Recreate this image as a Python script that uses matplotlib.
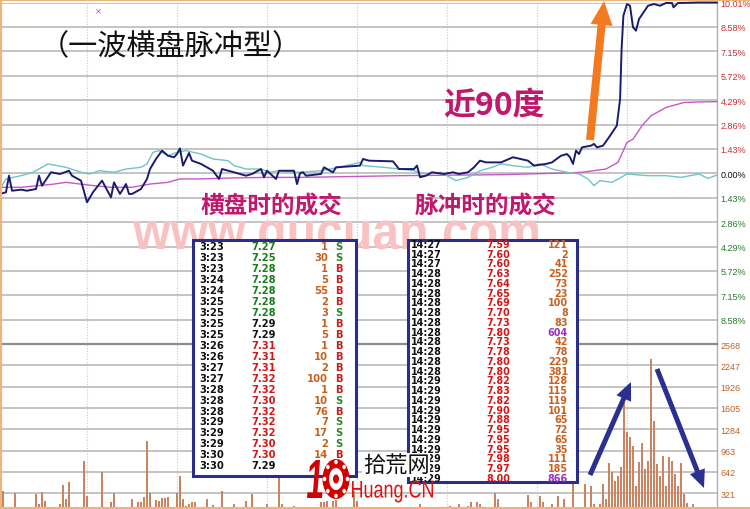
import numpy as np
import matplotlib
matplotlib.use("Agg")
import matplotlib.pyplot as plt
from matplotlib.patches import Rectangle, FancyArrow, Ellipse, PathPatch
from matplotlib.textpath import TextPath
from matplotlib.font_manager import FontProperties
from matplotlib.transforms import Affine2D

W, H = 750, 510

# ---------------- data ----------------
price_t = [1, 3, 4, 5, 8, 10, 13, 14, 15, 18, 21, 24, 25, 28, 30, 32, 35, 38, 39, 41, 43, 44, 45, 48,
           50, 51, 53, 55, 57, 59, 60, 61, 62, 64, 65, 68, 72, 74, 75, 79, 83, 85, 88, 89, 90, 93,
           94, 99, 100, 101, 102, 103, 108, 109, 111, 112, 113, 121, 122, 124, 132, 134, 139, 140,
           141, 143, 145, 149, 152, 154, 157, 159, 161, 163, 168, 172, 177, 179, 183, 185, 188, 190,
           191, 192, 193, 194, 195, 198, 199, 200, 202, 204, 206.6, 207.7, 208.2, 208.8, 210, 211,
           212, 213, 214, 217, 219, 221, 223, 225, 225.5, 227, 234, 240]
price_pct = [-1.21, -1.11, -0.14, -1.02, -0.96, -1.02, -0.92, -0.14, -0.73, 0.06, -0.04, 0.15, -0.14,
             -0.43, -1.70, -1.11, -0.43, -1.41, -0.53, -1.21, -0.63, -1.21, -1.21, -0.92, -0.33, 0.25,
             0.84, 1.33, 1.03, 0.94, 1.13, 1.46, 0.45, 1.19, 0.74, 0.55, 0.15, -0.33, 0.25, 0.06,
             -0.14, -0.04, 0.25, -0.23, 0.15, -0.33, 0.15, 0.15, -0.63, 0.00, 0.06, -0.14, -0.04,
             0.35, 0.15, 0.06, 0.35, 0.45, 0.84, 0.74, 0.70, 0.25, 0.25, 0.45, -0.23, -0.14, 0.06,
             -0.04, 0.06, -0.04, 0.06, 0.35, 0.74, 0.64, 0.64, 0.94, 0.74, 0.45, 0.55, 0.64, 1.03,
             1.13, 0.94, 0.55, 1.33, 1.13, 1.52, 1.62, 1.72, 1.52, 1.62, 2.11, 2.79, 4.36, 7.29,
             9.24, 9.92, 9.82, 8.56, 8.36, 9.04, 9.82, 9.92, 9.82, 9.98, 9.98, 9.73, 9.98, 10.01, 10.01]

index_t = [1, 3, 8, 12, 17, 23, 28, 31, 34, 39, 43, 48, 50, 52, 54, 57, 60, 63, 68, 72, 77, 79, 83,
           88, 91, 94, 99, 101, 108, 114, 121, 122, 129, 134, 139, 143, 148, 150, 153, 157, 161,
           165, 168, 172, 177, 181, 185, 190, 194, 197, 199, 201, 205, 208, 210, 217, 223, 228,
           234, 237, 240]
index_pct = [-0.92, -0.33, -0.14, 0.06, 0.55, 0.35, 0.06, -0.04, 0.15, 0.06, 0.25, 0.35, 0.55, 1.23,
             1.33, 1.03, 1.23, 1.33, 1.13, 0.84, 0.74, 0.45, 0.25, 0.25, 0.06, 0.15, 0.06, 0.06,
             0.15, 0.35, 0.64, 0.45, 0.35, 0.25, 0.15, -0.04, 0.06, -0.14, -0.43, -0.24, 0.15,
             0.35, 0.55, 0.45, 0.35, 0.55, 0.25, 0.06, -0.04, -0.33, -0.72, -0.43, -0.53, -0.24,
             -0.04, -0.14, -0.14, -0.24, -0.04, -0.30, -0.10]

avg_t = [1, 8, 14, 19, 23, 32, 38, 45, 51, 57, 61, 68, 79, 90, 101, 134, 168, 190, 195, 203, 207,
         210, 212, 215, 218, 223, 229, 234, 240]
avg_pct = [-0.82, -0.82, -0.72, -0.63, -0.53, -0.72, -0.82, -0.82, -0.63, -0.53, -0.33, -0.33,
           -0.27, -0.24, -0.24, -0.14, -0.08, 0.02, 0.06, 0.25, 0.64, 1.81, 2.00, 2.79, 3.37, 3.86,
           4.15, 4.18, 4.20]

vol_t = [2, 6, 13, 14, 15, 16, 21, 22, 23, 24, 29, 30, 35, 38, 39, 45, 47, 48, 49, 50, 51, 53, 54,
         55, 56, 57, 60, 61, 62, 63, 64, 65, 66, 70, 72, 75, 79, 83, 85, 90, 94, 95, 99, 108, 109,
         110, 112, 113, 119, 120, 141, 148, 149, 151, 154, 157, 158, 160, 161, 166, 167, 177, 178,
         181, 182, 185, 187, 189, 192, 196, 198, 199, 201, 202, 203, 204, 205, 206, 207, 208, 209,
         210, 211, 212, 213, 214, 215, 216, 217, 218, 219, 220, 221, 222, 223, 224, 225, 226, 227,
         228, 229, 230, 232]
vol_v = [357, 322, 307, 157, 333, 197, 157, 448, 232, 484, 810, 273, 644, 182, 318, 232, 182, 182,
         258, 1111, 322, 217, 207, 243, 243, 258, 322, 583, 232, 131, 157, 182, 192, 232, 136, 357,
         157, 207, 307, 157, 559, 157, 131, 182, 182, 207, 197, 222, 357, 207, 157, 110, 110, 131,
         157, 131, 182, 182, 157, 322, 232, 293, 192, 283, 192, 157, 283, 232, 508, 458, 433, 157,
         157, 458, 232, 775, 634, 508, 583, 710, 1714, 1237, 1162, 1036, 433, 785, 1076, 684, 810,
         2342, 1412, 760, 583, 885, 433, 860, 810, 609, 433, 770, 307, 167, 157]

pct_ticks = [10.01, 8.58, 7.15, 5.72, 4.29, 2.86, 1.43, 0.00, -1.43, -2.86, -4.29, -5.72, -7.15, -8.58]
vol_ticks = [2568, 2247, 1926, 1605, 1284, 963, 642, 321]
grid_minutes = [30, 60, 90, 120, 150, 180, 210]

left_time = ["3:23", "3:23", "3:23", "3:24", "3:24", "3:25", "3:25", "3:25", "3:25", "3:26", "3:26",
             "3:27", "3:27", "3:28", "3:28", "3:28", "3:29", "3:29", "3:29", "3:30", "3:30"]
left_price = [7.27, 7.25, 7.28, 7.28, 7.28, 7.28, 7.28, 7.29, 7.29, 7.31, 7.31, 7.31, 7.32, 7.32,
              7.30, 7.32, 7.32, 7.32, 7.30, 7.30, 7.29]
left_vol = [1, 30, 1, 5, 55, 2, 3, 1, 5, 1, 10, 2, 100, 1, 10, 76, 7, 17, 2, 14, None]
left_flag = ["S", "S", "B", "B", "B", "B", "S", "B", "B", "B", "B", "B", "B", "B", "S", "B", "S",
             "S", "S", "B", ""]

right_time = ["14:27"] * 3 + ["14:28"] * 11 + ["14:29"] * 11
right_price = [7.59, 7.60, 7.60, 7.63, 7.64, 7.65, 7.69, 7.70, 7.73, 7.80, 7.73, 7.78, 7.80, 7.80,
               7.82, 7.83, 7.82, 7.90, 7.88, 7.95, 7.95, 7.95, 7.98, 7.97, 8.00]
right_vol = [121, 2, 41, 252, 73, 23, 100, 8, 83, 604, 42, 78, 229, 381, 128, 115, 119, 101, 65, 72,
             65, 35, 111, 185, 866]
prev_close = 7.29

title_text = "（一波横盘脉冲型）"
angle_text = "近90度"
flat_label = "横盘时的成交"
pulse_label = "脉冲时的成交"
watermark = "www.gucuan.com"
logo_cn = "拾荒网"
logo_en = "Huang.CN"

# ---------------- figure ----------------
fig = plt.figure(figsize=(7.5, 5.1), dpi=100)
fig.patch.set_facecolor("white")


def fy(px):
    return 1 - px / H


GRID = "#b4b4b4"
ax_p = fig.add_axes([0, fy(345.1), 717 / W, (345.1 - 3.5) / H])
ax_v = fig.add_axes([0, fy(508), 717 / W, (508 - 345.1) / H])

for ax in (ax_p, ax_v):
    ax.set_xlim(1, 240)
    ax.set_facecolor("white")
    for s in ("left", "top", "bottom"):
        ax.spines[s].set_visible(False)
    ax.spines["right"].set_color("#b0b0b0")
    ax.spines["right"].set_linewidth(1.0)
    ax.set_xticks(grid_minutes)
    ax.tick_params(axis="x", length=0, labelbottom=False)
    ax.grid(axis="x", color="#c8c8c8", linestyle=(0, (1, 1.5)), linewidth=0.8)
    ax.grid(axis="y", color=GRID, linewidth=1.1)
    ax.yaxis.tick_right()
    ax.tick_params(axis="y", length=0, pad=2.5, labelsize=6.5)
    ax.set_axisbelow(True)

ax_p.set_ylim(-10.01, 10.01)
ax_p.set_yticks(pct_ticks)
ax_p.set_yticklabels([f"{abs(v):.2f}%" for v in pct_ticks], family="Liberation Sans")
for v, lab in zip(pct_ticks, ax_p.get_yticklabels()):
    lab.set_color("#c83030" if v > 0 else ("#111111" if v == 0 else "#2a7a2a"))

ax_v.set_ylim(113, 2568)
ax_v.set_yticks(vol_ticks)
ax_v.set_yticklabels([str(v) for v in vol_ticks], family="Liberation Sans")
for lab in ax_v.get_yticklabels():
    lab.set_color("#c0622a")
ax_v.spines["top"].set_visible(True)
ax_v.spines["top"].set_color("#8c8c8c")
ax_v.spines["top"].set_linewidth(1.6)

ax_p.plot(avg_t, avg_pct, color="#c858c8", lw=1.0, zorder=3, clip_on=False)
ax_p.plot(index_t, index_pct, color="#70c4c4", lw=1.0, zorder=3)
ax_p.plot(price_t, price_pct, color="#1c1c6e", lw=1.4, zorder=4, clip_on=False)

ax_v.bar(vol_t, vol_v, width=0.45, color="#c98462", linewidth=0, zorder=3)

# ---------------- overlay (pixel coordinates) ----------------
ov = fig.add_axes([0, 0, 1, 1])
ov.set_xlim(0, W)
ov.set_ylim(H, 0)
ov.axis("off")
ov.patch.set_alpha(0)


def path_text(s, x0, baseline, width, ref_h, ref, family, weight, color, skew=0, z=5):
    fp = FontProperties(family=family, weight=weight)
    tp = TextPath((0, 0), s, size=100, prop=fp)
    ext = tp.get_extents()
    rh = TextPath((0, 0), ref, size=100, prop=fp).get_extents().y1
    sx = width / ext.width
    sy = ref_h / rh
    tr = (Affine2D().translate(-ext.x0, 0).skew_deg(skew, 0).scale(sx, -sy)
          .translate(x0, baseline) + ov.transData)
    ov.add_patch(PathPatch(tp, transform=tr, fc=color, ec="none", zorder=z))


# frame lines
ov.plot([1, 1], [0, H], color="#f0b478", lw=1.5, zorder=1)
ov.plot([0, W], [1, 1], color="#f0b478", lw=1.5, zorder=1)
ov.plot([0, W], [508.5, 508.5], color="#f0b478", lw=1.5, zorder=1)
ov.text(98, 12, "×", color="#d040c0", fontsize=6, ha="center", va="center")

# titles
ov.text(171, 47, title_text, fontsize=21, family=["Noto Sans CJK SC", "DejaVu Sans"],
        ha="center", va="center", color="#111111")
ov.text(494, 106, angle_text, fontsize=23, family=["Noto Sans CJK SC", "DejaVu Sans"],
        weight="bold", ha="center", va="center", color="#c0186c")
ov.text(271, 207, flat_label, fontsize=17, family=["Noto Sans CJK SC"], weight="bold",
        ha="center", va="center", color="#c0186c")
ov.text(486, 207, pulse_label, fontsize=17, family=["Noto Sans CJK SC"], weight="bold",
        ha="center", va="center", color="#c0186c")

# watermark
path_text(watermark, 133, 250, 405, 28, "x", "Liberation Sans", "bold", "#f9c2c2", z=2)

# tables
NAVY = "#2c2c8c"
ov.add_patch(Rectangle((193, 241), 163, 236, fc="white", ec=NAVY, lw=2.2, zorder=6))
ov.add_patch(Rectangle((408, 241), 169, 242, fc="white", ec=NAVY, lw=2.2, zorder=6))

tf = dict(family="DejaVu Sans", weight="bold", va="baseline", zorder=7)
for i, (t, p, v, f) in enumerate(zip(left_time, left_price, left_vol, left_flag)):
    yb = 246.7 + i * 10.95 + 3.6
    pc = "#1b7d1b" if p < prev_close else ("#111111" if p == prev_close else "#d01818")
    ov.text(199, yb, t, fontsize=7.2, color="#111111", ha="left", **tf)
    ov.text(264, yb, f"{p:.2f}", fontsize=7.2, color=pc, ha="center", **tf)
    if v is not None:
        ov.text(328, yb, str(v), fontsize=7.2, color="#c8601e", ha="right", **tf)
    if f:
        ov.text(335, yb, f, fontsize=7.2, color="#c81e1e" if f == "B" else "#2a8a2a",
                ha="left", **tf)

for i, (t, p, v) in enumerate(zip(right_time, right_price, right_vol)):
    yb = 244.3 + i * 9.75 + 3.5
    ov.text(411, yb, t, fontsize=6.9, color="#111111", ha="left", **tf)
    ov.text(498, yb, f"{p:.2f}", fontsize=6.9, color="#d01818", ha="center", **tf)
    ov.text(568, yb, str(v), fontsize=6.9, color="#a030c0" if v >= 500 else "#c8601e",
            ha="right", **tf)

# arrows
ov.add_patch(FancyArrow(590, 141, 14, -139, width=8, head_width=22, head_length=24,
                        length_includes_head=True, fc="#f47a20", ec="none", zorder=8))
ov.add_patch(FancyArrow(590, 476, 41, -93, width=5, head_width=16, head_length=18,
                        length_includes_head=True, fc="#2b2f8f", ec="none", zorder=8))
ov.add_patch(FancyArrow(657, 370, 47, 119, width=5, head_width=16, head_length=18,
                        length_includes_head=True, fc="#2b2f8f", ec="none", zorder=8))

# logo
RED = "#d40000"
path_text("1", 307, 499, 15, 38, "1", "Liberation Sans", "bold", RED, skew=8, z=9)
ov.add_patch(Ellipse((336, 480), 27, 40, fc=RED, ec="none", zorder=9))
ov.add_patch(Ellipse((336, 480), 14, 22, fc="white", ec="none", zorder=10))
ov.add_patch(Ellipse((336, 480), 6, 9, fc=RED, ec="none", zorder=11))
for a in np.linspace(0, 2 * np.pi, 9)[:-1]:
    ov.add_patch(Ellipse((336 + 11.5 * np.cos(a), 480 + 17 * np.sin(a)), 3.5, 4.5,
                         fc="white", ec="none", zorder=10))
ov.text(396, 466, logo_cn, fontsize=16, family=["Noto Sans CJK SC"], color="#111111",
        ha="center", va="center", zorder=9,
        bbox=dict(fc="white", ec="none", pad=0.5))
path_text(logo_en, 352, 498.5, 81, 16.5, "H", "Liberation Sans", "normal", "#e01010", z=9)

fig.savefig("out.png", dpi=100, facecolor="white")
